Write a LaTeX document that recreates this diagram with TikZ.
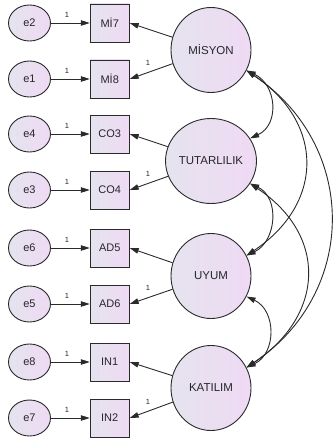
\documentclass[tikz,border=0pt]{standalone}
\usepackage{fontspec}
\setmainfont{Liberation Sans}
\usetikzlibrary{arrows.meta,shapes.geometric}
\definecolor{edge}{HTML}{2A2A2A}
\definecolor{ink}{HTML}{26262C}
\definecolor{lavL}{HTML}{E5E3EE}
\definecolor{lavR}{HTML}{EFDAF4}
\begin{document}
\begin{tikzpicture}[x=1pt,y=-1pt,
  base/.style={draw=edge,line width=0.9pt,left color=lavL,right color=lavR,
    text=ink,font=\fontsize{11}{13}\selectfont,inner sep=0pt},
  errnode/.style={base,ellipse,minimum width=42pt,minimum height=36pt},
  obsnode/.style={base,rectangle,minimum width=39pt,minimum height=38pt},
  latnode/.style={base,ellipse,minimum width=80pt,minimum height=85pt,
    font=\fontsize{11.5}{13}\selectfont},
  path/.style={draw=edge,line width=0.9pt,-{Triangle[length=9pt,width=5.5pt]}},
  cov/.style={draw=edge,line width=0.9pt,
    {Triangle[length=9pt,width=5.5pt]}-{Triangle[length=9pt,width=5.5pt]}},
  one/.style={text=ink,font=\fontsize{7.5}{8}\selectfont,inner sep=0pt}]
\useasboundingbox (0,0) rectangle (333,441);

% latent factors
\node[latnode] (M) at (211,50)  {MİSYON};
\node[latnode] (T) at (211,161) {TUTARLILIK};
\node[latnode] (U) at (211,276) {UYUM};
\node[latnode] (K) at (211,388) {KATILIM};

% indicators with their error terms
\foreach \e/\o/\lab/\txt/\y in {e2/MI7/Mİ7/e2/23, e1/MI8/Mİ8/e1/79,
    e4/CO3/CO3/e4/134, e3/CO4/CO4/e3/190,
    e6/AD5/AD5/e6/248, e5/AD6/AD6/e5/304,
    e8/IN1/IN1/e8/362, e7/IN2/IN2/e7/418}{
  \node[errnode] (\e) at (29.5,\y) {\txt};
  \node[obsnode] (\o) at (109.7,\y) {\lab};
  \draw[path] (\e) -- (\o);
  \node[one] (\e one) at (67,\y-8) {1};
}

% factor loadings
\draw[path] (M) -- (MI7.east);
\draw[path] (M) -- (MI8.east);
\draw[path] (T) -- (CO3.east);
\draw[path] (T) -- (CO4.east);
\draw[path] (U) -- (AD5.east);
\draw[path] (U) -- (AD6.east);
\draw[path] (K) -- (IN1.east);
\draw[path] (K) -- (IN2.east);
\node[one] (oneM) at (148,63)  {1};
\node[one] (oneT) at (148,174) {1};
\node[one] (oneU) at (148,288) {1};
\node[one] (oneK) at (148,402) {1};

% covariances between factors
\draw[cov] (M.-30) .. controls +(30,14) and +(30,-14) .. (T.30);
\draw[cov] (T.-30) .. controls +(30,14) and +(30,-14) .. (U.30);
\draw[cov] (U.-30) .. controls +(30,14) and +(30,-14) .. (K.30);
\draw[cov] (M.-30) .. controls +(78,52) and +(78,-52) .. (U.30);
\draw[cov] (T.-30) .. controls +(78,52) and +(78,-52) .. (K.30);
\draw[cov] (M.-30) .. controls +(112,75) and +(112,-75) .. (K.30);
\end{tikzpicture}
\end{document}
